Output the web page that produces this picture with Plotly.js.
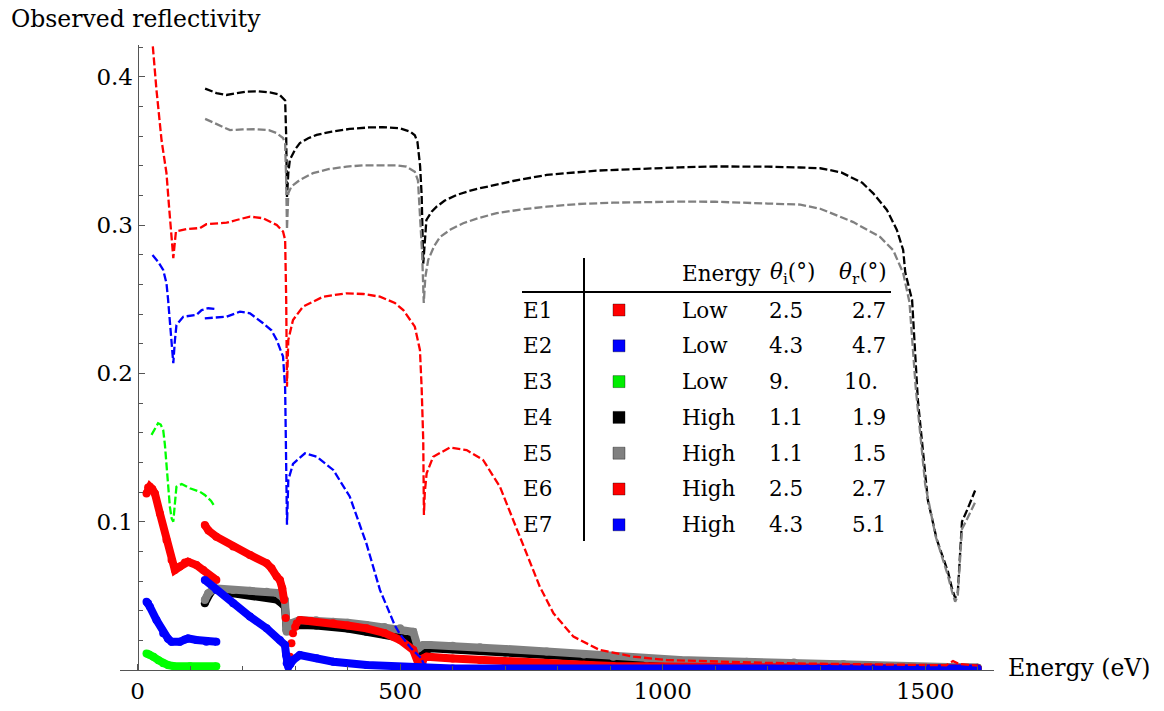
<!DOCTYPE html>
<html>
<head>
<meta charset="utf-8">
<script src="https://cdn.plot.ly/plotly-3.0.1.min.js"></script>
<style>html,body{margin:0;padding:0;background:#fff;}#chart{width:1164px;height:711px;}</style>
</head>
<body>
<div id="chart"></div>
<script>
// ---------------- DATA ----------------
// Model curves (dashed)
const e4ModelX = [128.6,150,169,190,207.6,230,252,270,277,281,283,284.5,287,290,300,309,325,341,370,404,440,467,500,519,528,533,538,541,544,547,550,560,569.5,585,607.6,630,652,715,779,874,969.5,1033,1100,1150,1200,1262,1300,1340,1363,1380,1401,1415,1427,1446,1458,1462,1475,1486,1505,1522,1534,1543.5,1551,1557,1562,1566,1570,1580,1595];
const e4ModelY = [0.392,0.389,0.3877,0.389,0.390,0.3902,0.3894,0.388,0.3855,0.384,0.36,0.319,0.335,0.344,0.351,0.3553,0.3585,0.3608,0.363,0.3648,0.3658,0.366,0.3652,0.363,0.3605,0.356,0.34,0.32,0.274,0.29,0.3034,0.309,0.3124,0.3165,0.3203,0.3228,0.3248,0.3297,0.3338,0.3367,0.3383,0.3389,0.3395,0.3396,0.3394,0.3388,0.3383,0.3355,0.3316,0.3285,0.3214,0.315,0.3102,0.2967,0.2832,0.268,0.2495,0.182,0.1146,0.088,0.075,0.066,0.055,0.0486,0.052,0.074,0.100,0.108,0.121];

const e5ModelX = [128.6,150,176,200,226,250,265,277,281,283,284.5,287,293,309,334,365,398,430,461.5,495,512,528,534,538,542,545,548,553.5,565,576,596,620,650,684,730,779,840,906,970,1033,1100,1150,1200,1262,1300,1363,1414,1439,1458,1470,1482,1500,1520,1534,1543,1551,1557,1562,1566,1570,1580,1595];
const e5ModelY = [0.3716,0.368,0.364,0.3645,0.3646,0.364,0.362,0.3587,0.355,0.33,0.297,0.3214,0.326,0.3304,0.335,0.3378,0.3394,0.3403,0.3405,0.3402,0.3394,0.336,0.33,0.308,0.28,0.2475,0.265,0.2765,0.286,0.292,0.297,0.3012,0.3048,0.308,0.3105,0.3124,0.3142,0.3151,0.3156,0.3158,0.3157,0.3153,0.3145,0.3138,0.311,0.302,0.292,0.283,0.2677,0.248,0.19,0.125,0.09,0.074,0.064,0.053,0.046,0.05,0.072,0.095,0.102,0.113];

const redModelX = [22,30,36,45.7,55,60,64.7,68,70,73,93,118.7,131,169.5,188.6,214,239,265,277,281,283,284.5,287,296,315,353.5,398,430,461.5,490,506,520,528,537.7,541,544,545.3,547,550.5,563,595,626.7,658,690,715,741,766,792,830,880,944,1008,1103,1200,1300,1400,1500,1540,1553,1565,1600];
const redModelY = [0.45,0.415,0.391,0.357,0.335,0.312,0.2945,0.2777,0.285,0.2956,0.2973,0.298,0.3006,0.3016,0.3034,0.3057,0.3046,0.300,0.2956,0.29,0.25,0.191,0.2225,0.236,0.245,0.2517,0.254,0.2535,0.2517,0.2475,0.2427,0.236,0.2315,0.2158,0.19,0.155,0.1045,0.12,0.1326,0.1438,0.150,0.1483,0.1416,0.1236,0.1011,0.0787,0.0562,0.0382,0.0225,0.0135,0.009,0.0067,0.0056,0.0048,0.0042,0.0037,0.0033,0.0032,0.006,0.004,0.003];

const blueModelAX = [28.4,39,48.8,55,58,61.5,64.7,68,71,74,87,112,122,134.5,147];
const blueModelAY = [0.2798,0.2753,0.2697,0.2608,0.25,0.2338,0.2158,0.2068,0.222,0.2326,0.2382,0.2394,0.2427,0.2439,0.2434];
const blueModelBX = [128,150,169.5,195,214,239,255,265,277,281,283,284.5,286,287,296,318.7,341,372.6,404,436,461.5,490,500,520,540,545,560,700,1000,1600];
const blueModelBY = [0.2371,0.2375,0.2382,0.2416,0.2405,0.2338,0.229,0.2225,0.2113,0.19,0.15,0.098,0.115,0.128,0.139,0.1461,0.1438,0.1349,0.117,0.085,0.054,0.030,0.024,0.015,0.008,0.004,0.002,0.0012,0.0008,0.0005];

const greenModelX = [26.5,33,39,44,48.8,52,55,61.5,65,68,71,74,84,99.6,118.7,128,140,147];
const greenModelY = [0.1585,0.163,0.1664,0.1655,0.1618,0.152,0.1394,0.110,0.102,0.100,0.112,0.1236,0.1254,0.1225,0.1202,0.118,0.114,0.110];

// Measured data (thick dotted bands)
const e1DataX = [17,20,23.4,28,33,42.5,55,64.7,71,80.6,90,96,112,125,137.7,150];
const e1DataY = [0.119,0.123,0.1236,0.122,0.119,0.1056,0.0877,0.0742,0.0674,0.0697,0.0725,0.073,0.0708,0.0674,0.063,0.0607];

const e2DataX = [17,20,23.4,36,48.8,58,64.7,80.6,90,96,112,131,150];
const e2DataY = [0.046,0.045,0.0427,0.0337,0.0247,0.021,0.0191,0.0191,0.0205,0.0213,0.0202,0.0191,0.0191];

const e3DataX = [17,22,30,40,48.8,58,68,100,150];
const e3DataY = [0.0112,0.0105,0.009,0.0065,0.0045,0.0033,0.0027,0.0025,0.0025];

const e4DataX = [128,132,137.7,147,160,182,214,245.7,265,271,280.6,284,288,296,309,340,372.6,400,436,470,500,525,531,537.7,545,557,600,652,700,779,850,906,970,1033,1100,1160,1300,1450,1600];
const e4DataY = [0.045,0.049,0.0517,0.0551,0.053,0.0517,0.0506,0.0494,0.0475,0.0461,0.0427,0.027,0.0265,0.0292,0.0303,0.030,0.0292,0.028,0.0258,0.024,0.0225,0.0202,0.0135,0.0124,0.012,0.0146,0.014,0.013,0.0118,0.0101,0.0085,0.0067,0.005,0.004,0.0032,0.0027,0.002,0.0017,0.0015];

const e5DataX = [128,134.5,147,182,214,245.7,265,271,280.6,284,288,293,309,340,372.6,400,436,470,500,525,534.5,544,557,600,652,700,779,850,906,970,1033,1100,1160,1250,1344,1450,1600];
const e5DataY = [0.0472,0.0517,0.0551,0.054,0.0535,0.0528,0.052,0.0506,0.0472,0.0258,0.028,0.0315,0.0337,0.0335,0.0326,0.0318,0.0303,0.029,0.0281,0.0258,0.0146,0.0169,0.0169,0.0163,0.0153,0.0142,0.0124,0.0105,0.009,0.0078,0.0067,0.006,0.0056,0.005,0.004,0.0025,0.0015];

const e6DataAX = [128,135,150,182,214,245.7,255,265,271,275.5,279];
const e6DataAY = [0.0978,0.094,0.0899,0.0832,0.0776,0.072,0.0686,0.063,0.0607,0.0551,0.0472];
const e6DataGapX = [282,287,290,293,296,300,303];
const e6DataGapY = [0.035,0.004,0.009,0.018,0.0247,0.029,0.0315];
const e6DataBX = [309,330,372.6,400,436,470,500,525,534.5,540,545,550.5,600,652,700,779,850,906,1000,1200,1400,1600];
const e6DataBY = [0.0337,0.033,0.0315,0.030,0.0281,0.025,0.0202,0.0135,0.0045,0.002,0.008,0.009,0.0078,0.0067,0.0056,0.0045,0.0035,0.0027,0.0022,0.0018,0.0015,0.0012];

const e7DataX = [128,150,182,214,245.7,271,280.6,283,284,287,291,296,309,341,372.6,436,500,540,600,1000,1600];
const e7DataY = [0.0607,0.054,0.045,0.036,0.0281,0.0202,0.0169,0.01,0.0045,0.002,0.004,0.0067,0.0101,0.0079,0.0056,0.0034,0.002,0.0012,0.001,0.001,0.001];

// Axis ticks
const xTickVals = [0,500,1000,1500];
const xTickText = ["0","500","1000","1500"];
const yTickVals = [0.1,0.2,0.3,0.4];
const yTickText = ["0.1","0.2","0.3","0.4"];

// Inset table
const rowLabels = ["E1","E2","E3","E4","E5","E6","E7"];
const rowColors = ["#ff0000","#0000ff","#00ee00","#000000","#808080","#ff0000","#0000ff"];
const rowEnergy = ["Low","Low","Low","High","High","High","High"];
const rowThetaI = ["2.5","4.3","9.","1.1","1.1","2.5","4.3"];
const rowThetaR = ["2.7","4.7","10.","1.9","1.5","2.7","5.1"];

// ---------------- STYLE / BUILD ----------------
const RED="#ff0000", BLUE="#0000ff", GREEN="#00ff00", BLACK="#000000", GREY="#808080";
const FONT = "DejaVu Serif, serif";
const traces = [];
function band(x,y,c){
  traces.push({x:x,y:y,type:"scatter",mode:"lines+markers",line:{color:c,width:8},marker:{color:c,size:8},hoverinfo:"skip",showlegend:false});
}
function dots(x,y,c){
  traces.push({x:x,y:y,type:"scatter",mode:"markers",marker:{color:c,size:8},hoverinfo:"skip",showlegend:false});
}
function model(x,y,c,w){
  traces.push({x:x,y:y,type:"scatter",mode:"lines",line:{color:c,width:w||2.3,dash:"8px,3px"},hoverinfo:"skip",showlegend:false});
}
band(e4DataX,e4DataY,BLACK);
band(e5DataX,e5DataY,GREY);
band(e6DataAX,e6DataAY,RED);
dots(e6DataGapX,e6DataGapY,RED);
band(e6DataBX,e6DataBY,RED);
band(e1DataX,e1DataY,RED);
band(e7DataX,e7DataY,BLUE);
band(e2DataX,e2DataY,BLUE);
band(e3DataX,e3DataY,GREEN);
model(e4ModelX,e4ModelY,BLACK);
model(e5ModelX,e5ModelY,GREY);
model(redModelX,redModelY,RED);
model(blueModelAX,blueModelAY,BLUE);
model(blueModelBX,blueModelBY,BLUE);
model(greenModelX,greenModelY,GREEN);

// pixel -> paper helpers for the inset table
const L=120, R=170, T=45, B=41, W=1164, H=711;
const PW=W-L-R, PH=H-T-B;
const px = v => (v-L)/PW;
const py = v => (H-B-v)/PH;

const annotations = [];
const shapes = [];
function txt(text,x,y,anchor,size){
  annotations.push({text:text,x:px(x),y:py(y),xref:"paper",yref:"paper",xanchor:anchor,yanchor:"middle",showarrow:false,font:{family:FONT,size:size||21,color:"#000"}});
}
txt("Observed reflectivity",9,19,"left",23.5);
txt("Energy (eV)",1006,668,"left",23.5);
// header
const TS = 21.5;
txt("Energy",680,273,"left",TS);
txt("<i>θ</i><sub>i</sub>(°)",768,273,"left",TS);
txt("<i>θ</i><sub>r</sub>(°)",889,273,"right",TS);
const rowY0 = 310, rowDY = 35.8;
rowLabels.forEach((lab,i)=>{
  const yc = rowY0 + i*rowDY;
  txt(lab,521,yc,"left",TS);
  txt(rowEnergy[i],680,yc,"left",TS);
  txt(rowThetaI[i],767,yc,"left",TS);
  if (rowThetaR[i]==="10.") txt(rowThetaR[i],842,yc,"left",TS);
  else txt(rowThetaR[i],888,yc,"right",TS);
  shapes.push({type:"rect",xref:"paper",yref:"paper",x0:px(613),x1:px(625),y0:py(yc+6),y1:py(yc-6),fillcolor:rowColors[i],line:{color:"rgba(0,0,0,0.35)",width:1}});
});
shapes.push({type:"line",xref:"paper",yref:"paper",x0:px(584),x1:px(584),y0:py(258),y1:py(541),line:{color:"#000",width:2}});
shapes.push({type:"line",xref:"paper",yref:"paper",x0:px(522),x1:px(891),y0:py(292),y1:py(292),line:{color:"#000",width:2}});

const xmin=-33.5, xmax=1631;
const layout = {
  width:W,height:H,
  margin:{l:L,r:R,t:T,b:B,pad:0},
  paper_bgcolor:"#fff",plot_bgcolor:"#fff",
  showlegend:false,
  font:{family:FONT,color:"#000"},
  xaxis:{range:[xmin,xmax],showgrid:false,zeroline:false,showline:true,linecolor:"#555",linewidth:1,
    ticks:"inside",ticklen:6,tickcolor:"#555",tickwidth:1,tickvals:xTickVals,ticktext:xTickText,
    tickfont:{family:FONT,size:23,color:"#000"},
    minor:{ticks:"inside",ticklen:4,tickcolor:"#555",dtick:100,tick0:0,showgrid:false}},
  yaxis:{range:[0,0.4214],anchor:"free",position:(0-xmin)/(xmax-xmin),showgrid:false,zeroline:false,showline:true,linecolor:"#555",linewidth:1,
    ticks:"inside",ticklen:6,tickcolor:"#555",tickwidth:1,tickvals:yTickVals,ticktext:yTickText,
    tickfont:{family:FONT,size:23,color:"#000"},
    minor:{ticks:"inside",ticklen:4,tickcolor:"#555",dtick:0.02,tick0:0,showgrid:false}},
  annotations:annotations,
  shapes:shapes
};
Plotly.newPlot("chart",traces,layout,{staticPlot:true,displayModeBar:false});
</script>
</body>
</html>
